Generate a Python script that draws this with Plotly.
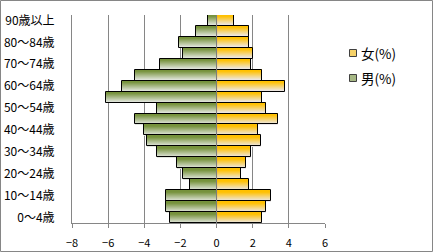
import plotly.graph_objects as go

ages = ["0～4歳", "5～9歳", "10～14歳", "15～19歳", "20～24歳", "25～29歳",
        "30～34歳", "35～39歳", "40～44歳", "45～49歳", "50～54歳", "55～59歳",
        "60～64歳", "65～69歳", "70～74歳", "75～79歳", "80～84歳", "85～89歳",
        "90歳以上"]
male = [-2.60, -2.82, -2.82, -1.49, -1.88, -2.21, -3.31, -3.87, -4.01, -4.53,
        -3.31, -6.11, -5.23, -4.53, -3.13, -1.88, -2.08, -1.14, -0.50]
female = [2.51, 2.73, 3.01, 1.79, 1.33, 1.62, 1.90, 2.45, 2.27, 3.39,
          2.76, 2.51, 3.78, 2.54, 1.90, 1.99, 1.77, 1.77, 0.94]
legend_names = ["女(%)", "男(%)"]
tick_labels = ages[::2]
x_ticks = [-8, -6, -4, -2, 0, 2, 4, 6]

FONT = "Noto Sans CJK JP"
GRID = "#868686"


def blend(c1, c2, t):
    t = max(0.0, min(1.0, t))
    return "rgb({},{},{})".format(*[round(a + (b - a) * t) for a, b in zip(c1, c2)])


series = [
    (legend_names[0], female, (255, 192, 0), (236, 232, 234)),
    (legend_names[1], male, (118, 146, 60), (226, 230, 222)),
]
N = 11
fig = go.Figure()
for name, vals, dark, light in series:
    for k in range(N):
        s = 1 - (k + 0.5) / N          # distance from top edge (0 top, 1 bottom)
        t = (s - 0.1) / 0.8
        fig.add_trace(go.Bar(
            y=ages, x=vals, orientation="h", width=1.0 / N + 0.004,
            offset=-0.5 + k / N,
            marker=dict(color=blend(dark, light, t), line=dict(width=0)),
            name=name, showlegend=False, hoverinfo="skip"))
    fig.add_trace(go.Bar(
        y=ages, x=vals, orientation="h", width=1, offset=-0.5,
        marker=dict(color="rgba(0,0,0,0)", line=dict(color="black", width=1)),
        name=name, showlegend=False, hoverinfo="skip"))

W, H = 433, 252
L, R, T, B = 72, 108, 15, 29
pw, ph = W - L - R, H - T - B


def px_x(x):
    return (x - L) / pw


def px_y(y):
    return (T + ph - y) / ph


shapes = [
    dict(type="line", xref="x", yref="paper", x0=0, x1=0, y0=0, y1=1,
         line=dict(color=GRID, width=1), layer="above"),
    dict(type="rect", xref="paper", yref="paper",
         x0=px_x(0.5), x1=px_x(W - 0.5), y0=px_y(H - 0.5), y1=px_y(0.5),
         line=dict(color=GRID, width=1), layer="above"),
]
annotations = []
legend_rows = [(series[0], 53), (series[1], 78)]
for (name, vals, dark, light), yc in legend_rows:
    shapes.append(dict(type="rect", xref="paper", yref="paper",
                       x0=px_x(349.5), x1=px_x(356.5), y0=px_y(yc + 3.5), y1=px_y(yc - 3.5),
                       fillcolor=blend(dark, light, 0.45),
                       line=dict(color="#404040", width=1), layer="above"))
    annotations.append(dict(xref="paper", yref="paper", x=px_x(358.5), y=px_y(yc),
                            xanchor="left", yanchor="middle", showarrow=False,
                            text=name, font=dict(size=13.5, family=FONT, color="black")))

fig.update_layout(
    width=W, height=H,
    margin=dict(l=L, r=R, t=T, b=B, pad=0),
    paper_bgcolor="white", plot_bgcolor="white",
    barmode="overlay", bargap=0,
    font=dict(family=FONT, color="black"),
    showlegend=False,
    xaxis=dict(range=[-8, 6], tickvals=x_ticks, showgrid=True, gridcolor=GRID,
               gridwidth=1, zeroline=False, showline=True, linecolor=GRID,
               ticks="outside", ticklen=4, tickcolor=GRID, automargin=False,
               ticklabelstandoff=6,
               tickfont=dict(size=11, family=FONT), fixedrange=True),
    yaxis=dict(type="category", categoryorder="array", categoryarray=ages,
               tickvals=tick_labels, range=[-0.5, len(ages) - 0.5],
               showgrid=False, showline=True, linecolor=GRID, ticks="",
               automargin=False, ticklabelstandoff=14,
               tickfont=dict(size=12, family=FONT)),
    shapes=shapes,
    annotations=annotations,
)

fig.write_html("out.html")
